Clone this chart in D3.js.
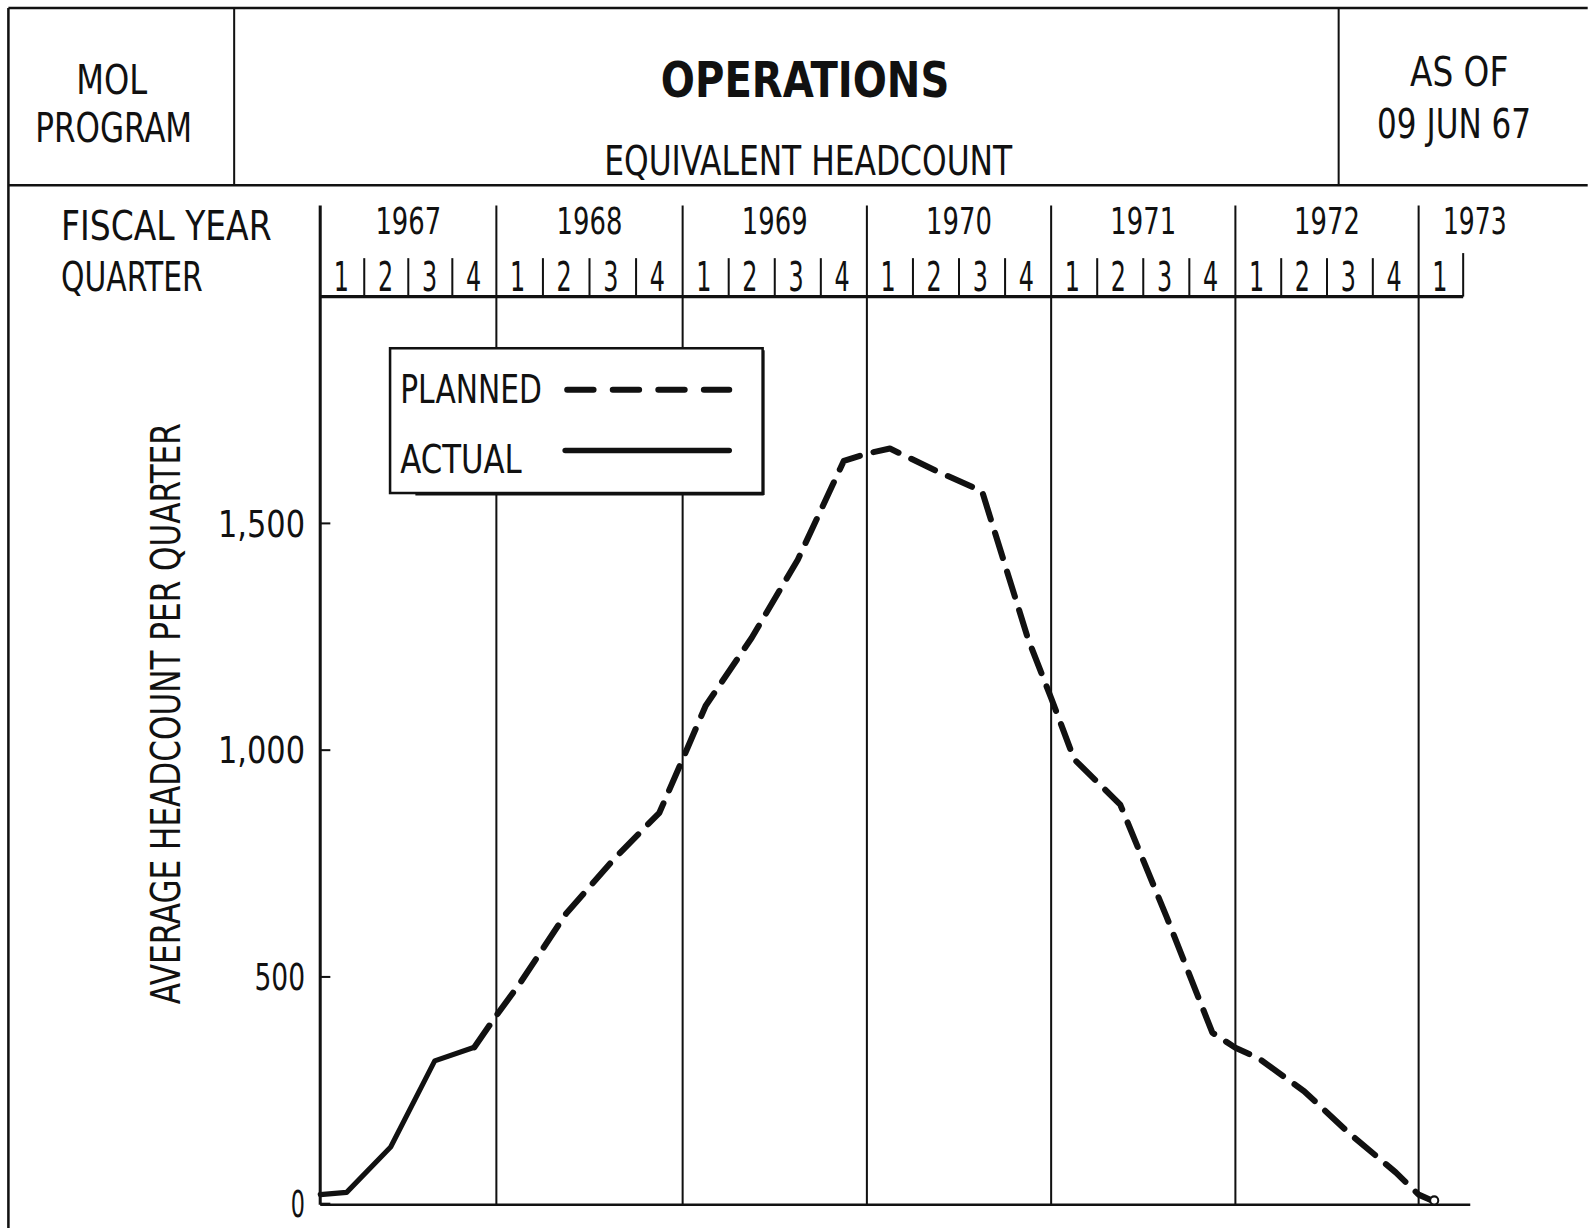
<!DOCTYPE html>
<html>
<head>
<meta charset="utf-8">
<title>MOL Program - Operations headcount</title>
<script src="https://d3js.org/d3.v7.min.js"></script>
<style>
    body { margin: 0; background: #fff; }
    svg text {
        font-family: "Liberation Sans Narrow", "DejaVu Sans Condensed", "DejaVu Sans", sans-serif;
        fill: #111;
    }
</style>
</head>
<body>
<div id="chart"></div>
<script>
    // fiscal years and how many quarters of each are shown
    var years = ['1967', '1968', '1969', '1970', '1971', '1972', '1973'];
    var yearQuarters = [4, 4, 4, 4, 4, 4, 1];
    var quarterLabels = ['1', '2', '3', '4'];
    var yTicks = [0, 500, 1000, 1500];
    var yTickLabels = ['0', '500', '1,000', '1,500'];

    // position = quarters elapsed since start of FY 1967
    var actualPos = [0, 0.6, 1.6, 2.6, 3.5];
    var actualVal = [20, 25, 125, 315, 345];

    var plannedPos = [3.5, 4, 4.5, 5.5, 6.5, 7.5, 8, 8.5, 9.5, 10.5, 11.5, 12, 12.5,
        13.5, 14.5, 15.5, 16, 16.5, 17.5, 18.5, 19.5, 20, 20.5, 21.5, 22.5, 23.5, 24, 24.35];
    var plannedVal = [345, 415, 485, 640, 757, 862, 980, 1098, 1248, 1420, 1638, 1654, 1665,
        1616, 1571, 1245, 1115, 980, 880, 634, 377, 344, 321, 248, 154, 69, 20, 5];

    var W = 1568, H = 1213;

    var svg = d3.select('#chart').append('svg')
        .attr('width', 1588)
        .attr('height', 1228)
        .attr('viewBox', '0 0 ' + W + ' ' + H)
        .style('display', 'block');

    // the hand-ruled year columns are not quite equal, so the time scale is piecewise
    var x = d3.scaleLinear()
        .domain([0, 4, 8, 12, 16, 20, 24, 25])
        .range([316, 490, 674, 856, 1038, 1220, 1401, 1445]);
    var y = d3.scaleLinear().domain([0, 1500]).range([1189, 517]);

    function line(g, x1, y1, x2, y2, w) {
        g.append('line')
            .attr('x1', x1).attr('y1', y1).attr('x2', x2).attr('y2', y2)
            .attr('stroke', '#111').attr('stroke-width', w || 2);
    }

    function label(txt, px, py, size, opts) {
        opts = opts || {};
        var t = svg.append('text')
            .attr('x', px).attr('y', py)
            .attr('font-size', size)
            .attr('text-anchor', opts.anchor || 'middle')
            .text(txt);
        if (opts.len) t.attr('textLength', opts.len).attr('lengthAdjust', 'spacingAndGlyphs');
        if (opts.bold) t.attr('font-weight', 'bold');
        if (opts.rotate) t.attr('transform', 'rotate(-90,' + px + ',' + py + ')');
        return t;
    }

    // ---- header frame
    var frame = svg.append('g');
    line(frame, 8, 8, W, 8, 2.5);
    line(frame, 8, 8, 8, H, 2.5);
    line(frame, 8, 183, W, 183, 2.5);
    line(frame, 231, 8, 231, 183, 2);
    line(frame, 1322, 8, 1322, 183, 2);

    label('MOL', 110, 93, 40, {len: 70});
    label('PROGRAM', 112, 140, 40, {len: 155});
    label('OPERATIONS', 795, 96, 50, {len: 285, bold: true});
    label('EQUIVALENT HEADCOUNT', 798, 173, 40, {len: 403});
    label('AS OF', 1441, 85, 40, {len: 97});
    label('09 JUN 67', 1436, 136, 40, {len: 152});

    label('FISCAL YEAR', 60, 237, 40, {len: 208, anchor: 'start'});
    label('QUARTER', 60, 287, 40, {len: 140, anchor: 'start'});

    // ---- time axis (years / quarters)
    var axisG = svg.append('g');
    var start = 0;
    years.forEach(function(yr, i) {
        var n = yearQuarters[i];
        line(axisG, x(start), 203, x(start), 1190, i === 0 ? 3 : 2);
        if (n === 1) {
            label(yr, x(start) + 24, 231, 37, {len: 63, anchor: 'start'});
        } else {
            label(yr, x(start + n / 2), 231, 37, {len: 65});
        }
        for (var q = 0; q < n; q++) {
            if (q > 0) line(axisG, x(start + q), 255, x(start + q), 293, 2);
            label(quarterLabels[q], x(start + q) + 21, 287, 40, {len: 15});
        }
        start += n;
    });
    line(axisG, x(start), 250, x(start), 293, 2);
    line(axisG, x(0), 293, x(start), 293, 3);
    line(axisG, x(0), 1190, x(start) + 7, 1190, 2.5);

    // ---- value axis
    var yG = svg.append('g');
    yTicks.forEach(function(v, i) {
        line(yG, x(0), y(v), x(0) + 10, y(v), 2);
        var w = yTickLabels[i].length;
        label(yTickLabels[i], 301, y(v) + 13, 37, {anchor: 'end', len: w === 1 ? 14 : (w === 3 ? 50 : 86)});
    });
    label('AVERAGE HEADCOUNT PER QUARTER', 178, 705, 40, {len: 574, rotate: true});

    // ---- series
    var pathGen = d3.line()
        .x(function(d) { return x(d[0]); })
        .y(function(d) { return y(d[1]); });

    var planned = d3.zip(plannedPos, plannedVal);
    var actual = d3.zip(actualPos, actualVal);

    svg.append('path')
        .attr('d', pathGen(planned))
        .attr('fill', 'none')
        .attr('stroke', '#111')
        .attr('stroke-width', 6)
        .attr('stroke-linecap', 'round')
        .attr('stroke-linejoin', 'round')
        .attr('stroke-dasharray', '26 14');

    svg.append('path')
        .attr('d', pathGen(actual))
        .attr('fill', 'none')
        .attr('stroke', '#111')
        .attr('stroke-width', 5)
        .attr('stroke-linecap', 'round')
        .attr('stroke-linejoin', 'round');

    var last = planned[planned.length - 1];
    svg.append('circle')
        .attr('cx', x(last[0])).attr('cy', y(last[1]) - 1)
        .attr('r', 4)
        .attr('fill', '#fff').attr('stroke', '#111').attr('stroke-width', 2);

    // ---- legend
    var lg = svg.append('g');
    lg.append('rect')
        .attr('x', 385).attr('y', 344).attr('width', 368).attr('height', 143)
        .attr('fill', '#fff').attr('stroke', '#111').attr('stroke-width', 2.5);
    line(lg, 410, 488, 754, 488, 3);
    line(lg, 754, 346, 754, 489, 2);
    label('PLANNED', 395, 398, 38, {len: 140, anchor: 'start'});
    label('ACTUAL', 395, 467, 38, {len: 120, anchor: 'start'});
    lg.append('line')
        .attr('x1', 560).attr('y1', 385).attr('x2', 720).attr('y2', 385)
        .attr('stroke', '#111').attr('stroke-width', 6)
        .attr('stroke-linecap', 'round').attr('stroke-dasharray', '26 19');
    lg.append('line')
        .attr('x1', 558).attr('y1', 445).attr('x2', 720).attr('y2', 445)
        .attr('stroke', '#111').attr('stroke-width', 5.5)
        .attr('stroke-linecap', 'round');
</script>
</body>
</html>
